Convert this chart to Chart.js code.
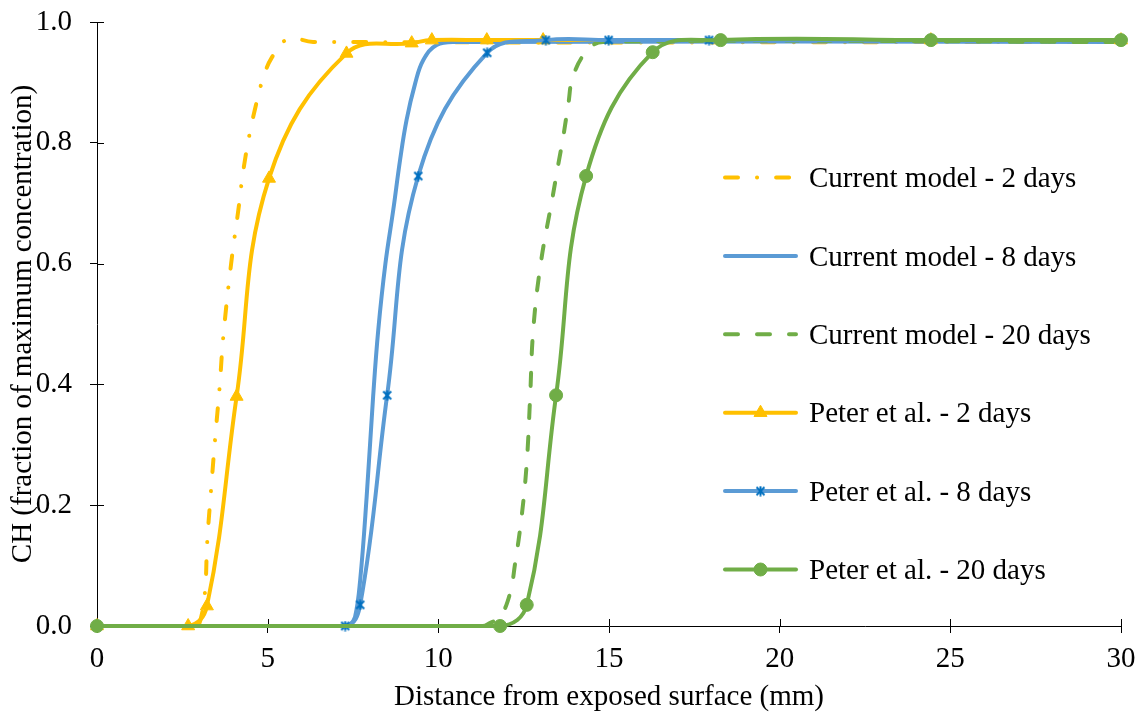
<!DOCTYPE html>
<html>
<head>
<meta charset="utf-8">
<script src="https://cdn.jsdelivr.net/npm/chart.js@4.4.1/dist/chart.umd.min.js"></script>
<style>
  html, body { margin: 0; padding: 0; background: #ffffff; }
  #wrap { width: 1144px; height: 715px; position: relative; }
</style>
</head>
<body>
<div id="wrap"><canvas id="c" width="1144" height="715"></canvas></div>
<script>
// ---- Data ----
const xAxisTitle = 'Distance from exposed surface (mm)';
const yAxisTitle = 'CH (fraction of maximum concentration)';
const xTickValues = [0, 5, 10, 15, 20, 25, 30];
const yTickValues = [0.0, 0.2, 0.4, 0.6, 0.8, 1.0];

const seriesNames = [
  'Current model - 2 days',
  'Current model - 8 days',
  'Current model - 20 days',
  'Peter et al. - 2 days',
  'Peter et al. - 8 days',
  'Peter et al. - 20 days'
];

// Current model - 2 days
const cm2X = [0, 2.9, 3.02, 3.16, 3.23, 3.34, 3.46, 3.59, 3.70, 3.93, 4.16, 4.24, 4.35, 4.49, 4.65, 4.84, 5.12, 5.6, 6.33, 30];
const cm2Y = [0, 0, 0.008, 0.054, 0.14, 0.224, 0.31, 0.394, 0.479, 0.60, 0.697, 0.735, 0.777, 0.82, 0.861, 0.902, 0.941, 0.972, 0.967, 0.967];
// Current model - 8 days
const cm8X = [0, 7.3, 7.41, 7.56, 7.71, 7.90, 8.09, 8.24, 8.45, 8.68, 8.88, 9.07, 9.32, 9.56, 9.95, 10.54, 30];
const cm8Y = [0, 0, 0.002, 0.015, 0.076, 0.214, 0.38, 0.49, 0.60, 0.689, 0.772, 0.838, 0.898, 0.937, 0.962, 0.967, 0.967];
// Current model - 20 days
const cm20X = [0, 11.3, 11.51, 11.81, 12.10, 12.25, 12.44, 12.59, 12.69, 12.78, 13.0, 13.35, 13.51, 13.66, 13.81, 13.95, 14.38, 14.83, 30];
const cm20Y = [0, 0, 0.005, 0.015, 0.054, 0.104, 0.181, 0.27, 0.38, 0.49, 0.60, 0.711, 0.763, 0.81, 0.865, 0.911, 0.954, 0.967, 0.967];
// Peter et al. - 2 days
const p2X = [0, 2.67, 3.22, 4.09, 5.04, 7.31, 9.22, 9.81, 11.42, 13.07, 24.43, 30];
const p2Y = [0, 0, 0.033, 0.38, 0.741, 0.948, 0.965, 0.97, 0.97, 0.97, 0.97, 0.97];
// Peter et al. - 8 days
const p8X = [0, 7.27, 7.71, 8.50, 9.41, 11.43, 13.15, 14.99, 17.93, 30];
const p8Y = [0, 0, 0.035, 0.382, 0.745, 0.949, 0.97, 0.97, 0.97, 0.97];
// Peter et al. - 20 days
const p20X = [0, 11.81, 12.59, 13.45, 14.33, 16.28, 18.27, 24.43, 30];
const p20Y = [0, 0, 0.035, 0.382, 0.745, 0.95, 0.97, 0.97, 0.97];

// ---- Styles ----
const YELLOW = '#FFC000';
const BLUE = '#5B9BD5';
const BLUE_MARK = '#0070C0';
const GREEN = '#70AD47';
const FONT = '"Liberation Serif", "Times New Roman", Times, serif';
const FSIZE = 29;

function pts(xs, ys) { return xs.map((x, i) => ({ x: x, y: ys[i] })); }

function makeStar() {
  const c = document.createElement('canvas');
  c.width = 11; c.height = 11;
  const g = c.getContext('2d');
  g.strokeStyle = BLUE_MARK;
  g.lineWidth = 2;
  g.lineCap = 'butt';
  g.beginPath();
  g.moveTo(1.5, 1.5); g.lineTo(9.5, 9.5);
  g.moveTo(9.5, 1.5); g.lineTo(1.5, 9.5);
  g.moveTo(5.5, 0.5); g.lineTo(5.5, 10.5);
  g.stroke();
  return c;
}
const starImg = makeStar();

const dashDot = [13, 19, 0.1, 19];
const dashed = [13, 19];

const styles = [
  { color: YELLOW, dash: dashDot, point: false },
  { color: BLUE, dash: [], point: false },
  { color: GREEN, dash: dashed, point: false },
  { color: YELLOW, dash: [], point: 'triangle', radius: 7.5, pcolor: YELLOW },
  { color: BLUE, dash: [], point: starImg, radius: 5, pcolor: BLUE_MARK },
  { color: GREEN, dash: [], point: 'circle', radius: 6.5, pcolor: GREEN }
];
const seriesData = [pts(cm2X, cm2Y), pts(cm8X, cm8Y), pts(cm20X, cm20Y), pts(p2X, p2Y), pts(p8X, p8Y), pts(p20X, p20Y)];

const datasets = seriesData.map((d, i) => {
  const s = styles[i];
  return {
    label: seriesNames[i],
    data: d,
    borderColor: s.color,
    backgroundColor: s.pcolor || s.color,
    borderWidth: 4,
    borderDash: s.dash,
    borderCapStyle: 'round',
    borderJoinStyle: 'round',
    tension: 0.4,
    fill: false,
    pointRadius: s.point ? s.radius : 0,
    pointHoverRadius: s.point ? s.radius : 0,
    pointStyle: s.point || 'circle',
    pointBackgroundColor: s.pcolor || s.color,
    pointBorderColor: s.pcolor || s.color,
    pointBorderWidth: 1,
    clip: false,
    order: 5 - i
  };
});

// Inner tick marks (ticks cross the axis lines)
const innerTicks = {
  id: 'innerTicks',
  beforeDatasetsDraw(chart) {
    const ctx = chart.ctx;
    const xs = chart.scales.x, ys = chart.scales.y;
    const a = chart.chartArea;
    ctx.save();
    ctx.strokeStyle = '#000';
    ctx.lineWidth = 1;
    ctx.beginPath();
    xTickValues.forEach(v => {
      const px = Math.round(xs.getPixelForValue(v)) + 0.5;
      ctx.moveTo(px, a.bottom); ctx.lineTo(px, a.bottom - 7);
    });
    yTickValues.forEach(v => {
      const py = Math.round(ys.getPixelForValue(v)) + 0.5;
      ctx.moveTo(a.left, py); ctx.lineTo(a.left + 7, py);
    });
    ctx.stroke();
    ctx.restore();
  }
};

// Legend drawn to match the reference layout
const customLegend = {
  id: 'customLegend',
  afterDraw(chart) {
    const ctx = chart.ctx;
    const x0 = 725, x1 = 796, tx = 809;
    const y0 = 177.5, step = 78.4;
    ctx.save();
    seriesNames.forEach((name, i) => {
      const s = styles[i];
      const cy = y0 + step * i;
      ctx.save();
      ctx.strokeStyle = s.color;
      ctx.lineWidth = 4;
      ctx.lineCap = 'round';
      ctx.setLineDash(s.dash);
      ctx.beginPath();
      ctx.moveTo(x0, cy);
      ctx.lineTo(x1, cy);
      ctx.stroke();
      ctx.restore();
      if (s.point) {
        ctx.save();
        ctx.fillStyle = s.pcolor;
        ctx.strokeStyle = s.pcolor;
        ctx.lineWidth = 1;
        Chart.helpers.drawPoint(ctx, { pointStyle: s.point, radius: s.radius, rotation: 0, borderWidth: 1 }, (x0 + x1) / 2, cy);
        ctx.restore();
      }
      ctx.fillStyle = '#000';
      ctx.font = FSIZE + 'px ' + FONT;
      ctx.textAlign = 'left';
      ctx.textBaseline = 'alphabetic';
      ctx.fillText(name, tx, cy + 9.6);
    });
    ctx.restore();
  }
};

const tickFont = { family: FONT, size: FSIZE };

new Chart(document.getElementById('c'), {
  type: 'line',
  data: { datasets: datasets },
  options: {
    responsive: false,
    animation: false,
    events: [],
    layout: { padding: { left: 0, right: 23, top: 22, bottom: 0 } },
    plugins: {
      legend: { display: false },
      tooltip: { enabled: false },
      title: { display: false }
    },
    scales: {
      x: {
        type: 'linear',
        min: 0, max: 30,
        afterBuildTicks(scale) { scale.ticks = xTickValues.map(v => ({ value: v })); },
        afterFit(scale) { scale.height = 89; scale.paddingLeft = 0; scale.paddingRight = 0; },
        ticks: { font: tickFont, color: '#000', padding: 9, maxRotation: 0, callback: v => String(v) },
        grid: { display: true, drawOnChartArea: false, drawTicks: true, tickLength: 7, color: '#000', lineWidth: 1 },
        border: { display: true, color: '#000', width: 1 },
        title: { display: true, text: xAxisTitle, font: tickFont, color: '#000', padding: { top: 0, bottom: 0 } }
      },
      y: {
        type: 'linear',
        min: 0, max: 1.0,
        afterBuildTicks(scale) { scale.ticks = yTickValues.map(v => ({ value: v })); },
        afterFit(scale) { scale.width = 97; scale.paddingTop = 0; scale.paddingBottom = 0; },
        ticks: { font: tickFont, color: '#000', padding: 18, callback: v => Number(v).toFixed(1) },
        grid: { display: true, drawOnChartArea: false, drawTicks: true, tickLength: 7, color: '#000', lineWidth: 1 },
        border: { display: true, color: '#000', width: 1 },
        title: { display: true, text: yAxisTitle, font: tickFont, color: '#000', padding: { top: 6, bottom: 0 } }
      }
    }
  },
  plugins: [innerTicks, customLegend]
});
</script>
</body>
</html>
